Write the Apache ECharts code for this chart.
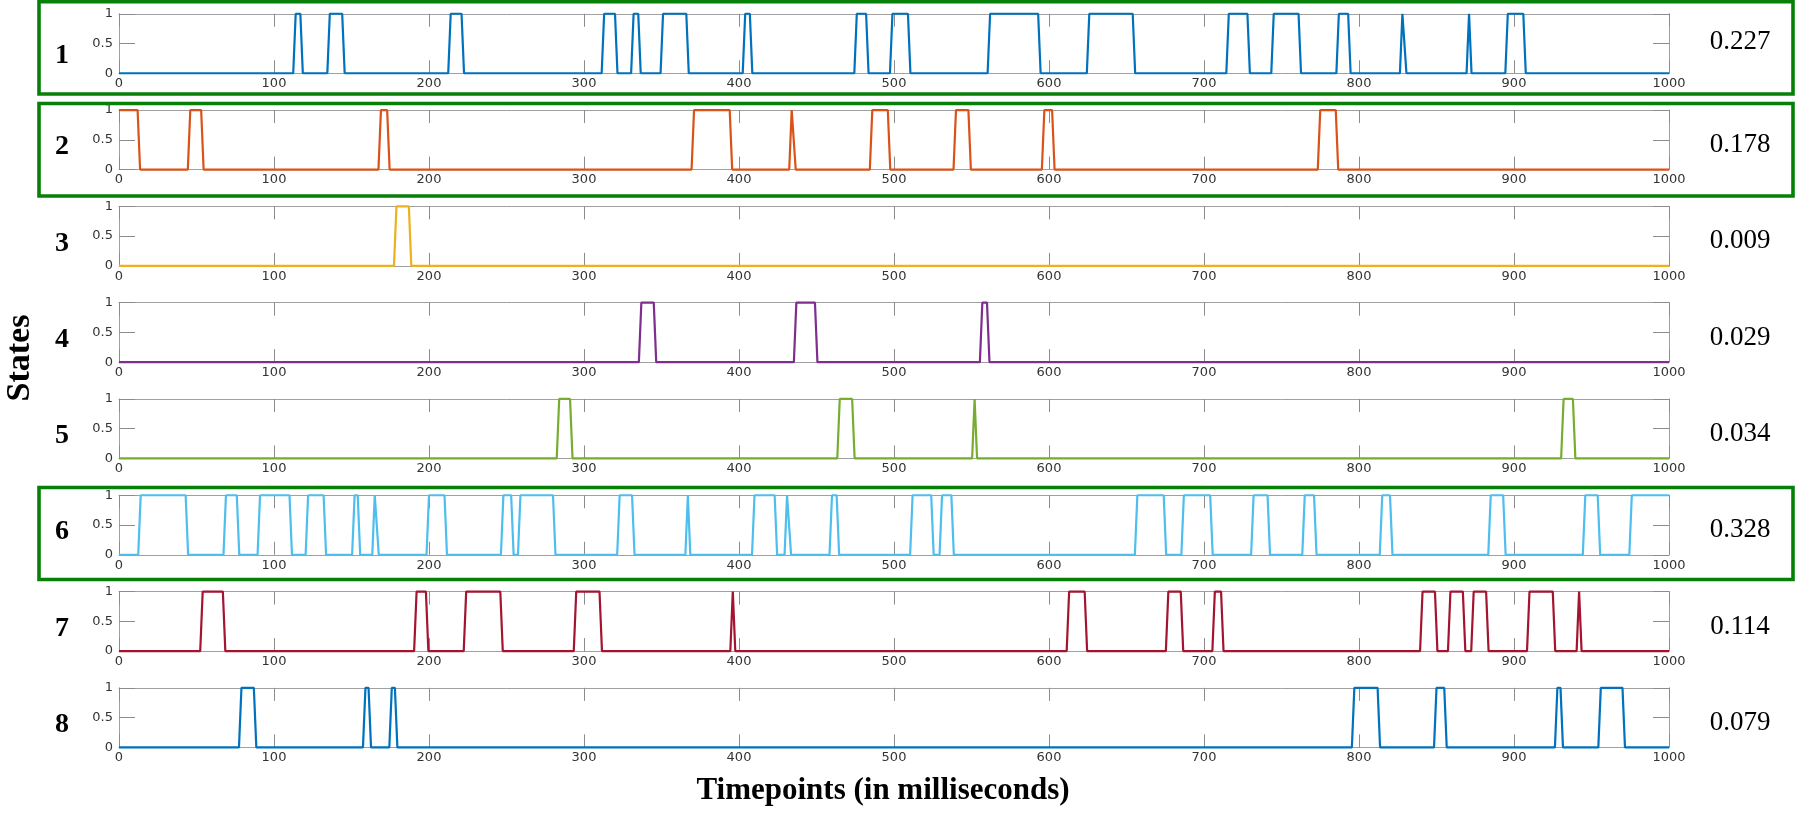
<!DOCTYPE html>
<html>
<head>
<meta charset="utf-8">
<title>States</title>
<script src="https://cdn.jsdelivr.net/npm/echarts@6/dist/echarts.min.js"></script>
<style>
  html, body { margin: 0; padding: 0; background: #fff; }
  #chart { width: 1797px; height: 813px; }
</style>
</head>
<body>
<div id="chart"></div>
<script>
// periods (ms) in which each state is active
var state1On = [[114, 117], [136, 144], [214, 221], [313, 320], [332, 335], [351, 366], [404, 407], [476, 482], [499, 509], [562, 593], [626, 654], [716, 728], [745, 761], [787, 793], [828, 829], [871, 871], [896, 906]]
var state2On = [[0, 12], [46, 53], [169, 173], [371, 394], [434, 435], [486, 496], [540, 548], [597, 602], [775, 785]]
var state3On = [[179, 187]]
var state4On = [[337, 345], [437, 449], [557, 560]]
var state5On = [[284, 291], [465, 473], [552, 552], [932, 938]]
var state6On = [[14, 43], [69, 76], [91, 110], [122, 132], [152, 154], [165, 166], [200, 210], [248, 253], [259, 280], [323, 331], [367, 367], [410, 423], [431, 432], [460, 463], [512, 524], [531, 537], [657, 674], [687, 704], [732, 741], [765, 771], [815, 820], [885, 893], [946, 954], [976, 1000]]
var state7On = [[54, 67], [192, 198], [224, 246], [295, 310], [396, 396], [613, 623], [677, 685], [707, 711], [841, 849], [859, 867], [874, 882], [910, 925], [942, 942]]
var state8On = [[79, 87], [159, 161], [176, 178], [797, 812], [850, 855], [928, 930], [956, 970]]

var stateNames = ['1', '2', '3', '4', '5', '6', '7', '8']
var occupancy = ['0.227', '0.178', '0.009', '0.029', '0.034', '0.328', '0.114', '0.079']
var stateColors = ['#0072BD', '#D95319', '#EDB120', '#7E2F8E', '#77AC30', '#4DBEEE', '#A2142F', '#0072BD']
var allOn = [state1On, state2On, state3On, state4On, state5On, state6On, state7On, state8On]

// layout
var plotLeft = 119
var plotRight = 128
var firstTop = 13.75
var rowStep = 96.3
var plotH = 59.5
var boxColor = '#a0a0a0'
var tickColor = '#8c8c8c'
var tickFont = {color: '#333', fontSize: 13, fontFamily: 'DejaVu Sans'}
var serif = 'Liberation Serif, Times New Roman, serif'

// 0/1 trace from active periods, with a short ramp at each switch
function toTrace (on) {
  var ramp = 1.6
  var pts = []
  pts.push([0, on.length && on[0][0] <= 0 ? 1 : 0])
  on.forEach(function (p) {
    if (p[0] > 0) {
      pts.push([p[0] - ramp, 0])
      pts.push([p[0], 1])
    }
    if (p[1] < 1000) {
      pts.push([p[1], 1])
      pts.push([p[1] + ramp, 0])
    } else {
      pts.push([1000, 1])
    }
  })
  if (pts[pts.length - 1][0] < 1000) pts.push([1000, 0])
  return pts
}

function plain (v) { return String(v) }

var grids = []
var xAxes = []
var yAxes = []
var series = []
var graphics = []

for (var i = 0; i < 8; i++) {
  var rowTop = firstTop + i * rowStep
  grids.push({left: plotLeft, right: plotRight, top: rowTop, height: plotH})

  xAxes.push({
    gridIndex: i, type: 'value', min: 0, max: 1000, interval: 100, position: 'bottom',
    axisLine: {show: true, onZero: false, lineStyle: {color: boxColor, width: 1}},
    axisTick: {show: true, inside: true, length: 13, lineStyle: {color: tickColor}},
    axisLabel: Object.assign({margin: 4, formatter: plain}, tickFont),
    splitLine: {show: false}
  })
  xAxes.push({
    gridIndex: i, type: 'value', min: 0, max: 1000, interval: 100, position: 'top',
    axisLine: {show: true, onZero: false, lineStyle: {color: boxColor, width: 1}},
    axisTick: {show: true, inside: true, length: 13, lineStyle: {color: tickColor}},
    axisLabel: {show: false},
    splitLine: {show: false}
  })
  yAxes.push({
    gridIndex: i, type: 'value', min: 0, max: 1, interval: 0.5, position: 'left',
    axisLine: {show: true, onZero: false, lineStyle: {color: boxColor, width: 1}},
    axisTick: {show: true, inside: true, length: 16, lineStyle: {color: tickColor}},
    axisLabel: Object.assign({margin: 6, formatter: plain}, tickFont),
    splitLine: {show: false}
  })
  yAxes.push({
    gridIndex: i, type: 'value', min: 0, max: 1, interval: 0.5, position: 'right',
    axisLine: {show: true, onZero: false, lineStyle: {color: boxColor, width: 1}},
    axisTick: {show: true, inside: true, length: 16, lineStyle: {color: tickColor}},
    axisLabel: {show: false},
    splitLine: {show: false}
  })

  series.push({
    name: 'State ' + stateNames[i],
    type: 'line',
    xAxisIndex: 2 * i,
    yAxisIndex: 2 * i,
    data: toTrace(allOn[i]),
    symbol: 'none',
    clip: false,
    z: 5,
    lineStyle: {width: 2.2, color: stateColors[i]}
  })

  graphics.push({
    type: 'text', x: 62, y: rowTop + (i === 0 ? 42 : 37),
    style: {text: stateNames[i], font: 'bold 28px ' + serif, fill: '#000', textAlign: 'center', textVerticalAlign: 'middle'}
  })
  graphics.push({
    type: 'text', x: 1740, y: rowTop + (i === 0 ? 28 : 35),
    style: {text: occupancy[i], font: '27px ' + serif, fill: '#000', textAlign: 'center', textVerticalAlign: 'middle'}
  })
}

// green highlight frames around states 1, 2 and 6
var frames = [[1.7, 94], [103.5, 196], [487.5, 579.5]]
frames.forEach(function (f) {
  graphics.push({
    type: 'rect', z: 10,
    shape: {x: 39, y: f[0], width: 1793 - 39, height: f[1] - f[0]},
    style: {fill: 'none', stroke: '#078007', lineWidth: 3.6}
  })
})

graphics.push({
  type: 'text', x: 20, y: 358, rotation: Math.PI / 2,
  style: {text: 'States', font: 'bold 34px ' + serif, fill: '#000', textAlign: 'center', textVerticalAlign: 'middle'}
})
graphics.push({
  type: 'text', x: 883, y: 791,
  style: {text: 'Timepoints (in milliseconds)', font: 'bold 31px ' + serif, fill: '#000', textAlign: 'center', textVerticalAlign: 'middle'}
})

var myChart = echarts.init(document.getElementById('chart'))
myChart.setOption({
  animation: false,
  backgroundColor: '#fff',
  grid: grids,
  xAxis: xAxes,
  yAxis: yAxes,
  series: series,
  graphic: graphics
})
</script>
</body>
</html>
